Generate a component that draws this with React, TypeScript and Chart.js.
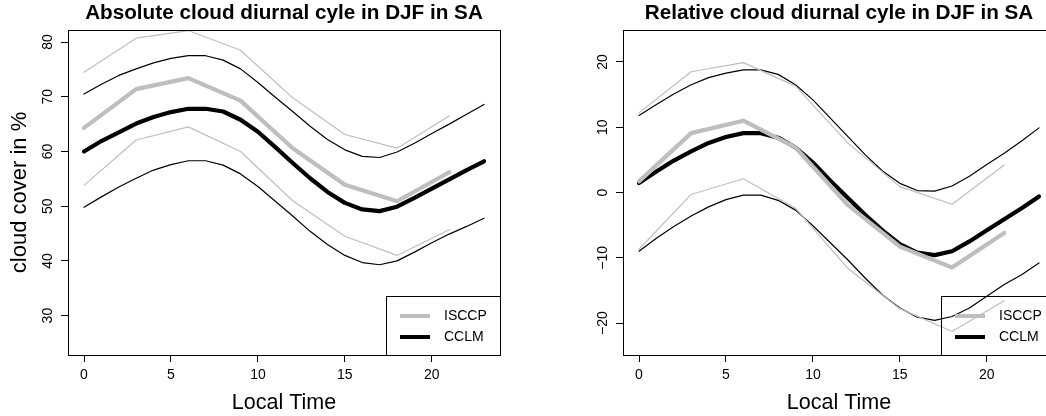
import React, { useEffect, useRef } from 'react';
import { Chart, registerables } from 'chart.js';

Chart.register(...registerables);

const FONT = '"Liberation Sans", Arial, Helvetica, sans-serif';

// ---- data ----
const HOURS = [0, 1, 2, 3, 4, 5, 6, 7, 8, 9, 10, 11, 12, 13, 14, 15, 16, 17, 18, 19, 20, 21, 22, 23];
const ISCCP_HOURS = [0, 3, 6, 9, 12, 15, 18, 21];
const X_TICKS = [0, 5, 10, 15, 20];

// Absolute panel
const absIsccpMean = [64.3, 71.4, 73.4, 69.3, 60.6, 53.9, 50.9, 56.2];
const absIsccpUpper = [74.5, 80.7, 82.1, 78.5, 69.8, 63.1, 60.6, 66.5];
const absIsccpLower = [53.8, 62.1, 64.5, 60.0, 51.0, 44.5, 41.0, 45.7];
const absCclmMean = [60.0, 61.9, 63.5, 65.1, 66.3, 67.2, 67.8, 67.8, 67.3, 65.8, 63.6, 60.8, 57.9, 55.1, 52.6, 50.6, 49.4, 49.1, 49.9, 51.5, 53.2, 54.9, 56.6, 58.2];
const absCclmUpper = [70.5, 72.3, 73.9, 75.1, 76.2, 77.0, 77.5, 77.5, 76.7, 75.1, 72.6, 69.9, 67.3, 64.6, 62.2, 60.3, 59.1, 58.9, 59.9, 61.5, 63.3, 65.0, 66.8, 68.6];
const absCclmLower = [49.8, 51.7, 53.5, 55.1, 56.6, 57.6, 58.3, 58.3, 57.5, 55.9, 53.6, 50.9, 48.2, 45.4, 43.0, 41.0, 39.7, 39.3, 40.0, 41.6, 43.3, 44.9, 46.3, 47.8];

// Relative panel
const relIsccpMean = [1.7, 9.1, 11.0, 6.9, -1.9, -8.3, -11.5, -6.2];
const relIsccpUpper = [12.2, 18.5, 19.9, 16.3, 7.6, 0.9, -1.8, 4.2];
const relIsccpLower = [-8.7, -0.3, 2.1, -2.4, -11.6, -17.8, -21.3, -16.6];
const relCclmMean = [1.45, 3.2, 4.9, 6.3, 7.6, 8.5, 9.1, 9.1, 8.4, 6.9, 4.6, 1.8, -0.8, -3.4, -5.8, -7.9, -9.2, -9.6, -9.0, -7.5, -5.8, -4.1, -2.4, -0.6];
const relCclmUpper = [11.8, 13.5, 15.1, 16.5, 17.6, 18.3, 18.8, 18.8, 18.1, 16.5, 14.2, 11.4, 8.6, 5.8, 3.3, 1.4, 0.3, 0.2, 1.0, 2.5, 4.3, 6.0, 7.9, 9.9];
const relCclmLower = [-9.0, -7.0, -5.2, -3.6, -2.2, -1.1, -0.4, -0.4, -1.2, -2.7, -5.1, -7.7, -10.3, -13.1, -15.7, -17.7, -19.1, -19.6, -19.0, -17.7, -15.9, -14.1, -12.6, -10.8];

const LEGEND_LABELS = ['ISCCP', 'CCLM'];
const GREY = '#bebebe';
const BLACK = '#000000';

type PanelProps = {
  title: string;
  yTitle?: string;
  isccp: number[][];
  cclm: number[][];
  yMin: number;
  yMax: number;
  left: number;
  canvasWidth: number;
  areaLeft: number;
  areaRight: number;
};

const fmt = (v: number) => (v < 0 ? '\u2212' + Math.abs(v) : String(v));

function Panel(p: PanelProps) {
  const ref = useRef<HTMLCanvasElement | null>(null);
  useEffect(() => {
    const canvas = ref.current;
    if (!canvas) return;
    const pts = (xs: number[], ys: number[]) => xs.map((x, i) => ({ x, y: ys[i] }));
    const ds = (label: string, color: string, width: number, xs: number[], ys: number[]) => ({
      label,
      data: pts(xs, ys),
      borderColor: color,
      backgroundColor: color,
      borderWidth: width,
      pointRadius: 0,
      fill: false,
      tension: 0,
      borderCapStyle: 'round',
      borderJoinStyle: 'round',
    });

    const boxPlugin = {
      id: 'rbox',
      afterDraw(chart: any) {
        const { ctx, chartArea: a } = chart;
        ctx.save();
        ctx.strokeStyle = '#000';
        ctx.lineWidth = 1;
        ctx.strokeRect(Math.round(a.left) + 0.5, Math.round(a.top) + 0.5, Math.round(a.right - a.left), Math.round(a.bottom - a.top));
        ctx.restore();
      },
    };

    const yLabelPlugin = {
      id: 'ylabels',
      afterDraw(chart: any) {
        const { ctx, chartArea: a } = chart;
        const sc = chart.scales.y;
        ctx.save();
        ctx.fillStyle = '#000';
        ctx.font = `14px ${FONT}`;
        ctx.textAlign = 'center';
        ctx.textBaseline = 'middle';
        sc.ticks.forEach((t: any) => {
          const y = sc.getPixelForValue(t.value);
          ctx.save();
          ctx.translate(a.left - 20, y);
          ctx.rotate(-Math.PI / 2);
          ctx.fillText(fmt(t.value), 0, 0);
          ctx.restore();
        });
        ctx.restore();
      },
    };

    const legendPlugin = {
      id: 'rlegend',
      afterDraw(chart: any) {
        const { ctx, chartArea: a } = chart;
        const w = 114;
        const h = 59;
        const lx = Math.round(a.right) - w;
        const ty = Math.round(a.bottom) - h;
        ctx.save();
        ctx.strokeStyle = '#000';
        ctx.lineWidth = 1;
        ctx.strokeRect(lx + 0.5, ty + 0.5, w, h);
        const items = [
          { label: LEGEND_LABELS[0], color: GREY },
          { label: LEGEND_LABELS[1], color: BLACK },
        ];
        items.forEach((it, i) => {
          const yy = ty + 20 + i * 21;
          ctx.strokeStyle = it.color;
          ctx.lineWidth = 4;
          ctx.lineCap = 'butt';
          ctx.beginPath();
          ctx.moveTo(lx + 14, yy);
          ctx.lineTo(lx + 44, yy);
          ctx.stroke();
          ctx.fillStyle = '#000';
          ctx.font = `14px ${FONT}`;
          ctx.textAlign = 'left';
          ctx.textBaseline = 'middle';
          ctx.fillText(it.label, lx + 58, yy);
        });
        ctx.restore();
      },
    };

    const chart = new Chart(canvas, {
      type: 'line',
      data: {
        datasets: [
          ds('ISCCP', GREY, 4.2, ISCCP_HOURS, p.isccp[0]),
          ds('ISCCP upper', GREY, 1.2, ISCCP_HOURS, p.isccp[1]),
          ds('ISCCP lower', GREY, 1.2, ISCCP_HOURS, p.isccp[2]),
          ds('CCLM', BLACK, 4.2, HOURS, p.cclm[0]),
          ds('CCLM upper', BLACK, 1.2, HOURS, p.cclm[1]),
          ds('CCLM lower', BLACK, 1.2, HOURS, p.cclm[2]),
        ] as any,
      },
      options: {
        responsive: false,
        animation: false,
        devicePixelRatio: 1,
        layout: { padding: { left: 0, top: 0, bottom: 0, right: p.canvasWidth - p.areaRight } },
        plugins: {
          legend: { display: false },
          tooltip: { enabled: false },
          title: {
            display: true,
            text: p.title,
            fullSize: false,
            color: '#000',
            font: { family: FONT, size: 20.7, weight: 'bold', lineHeight: 1.2 },
            padding: { top: 0.6, bottom: 4.56 },
          },
        },
        scales: {
          x: {
            type: 'linear',
            min: -0.92,
            max: 23.92,
            afterFit: (s: any) => {
              s.height = 61;
            },
            afterBuildTicks: (s: any) => {
              s.ticks = X_TICKS.map((v) => ({ value: v }));
            },
            ticks: {
              stepSize: 5,
              includeBounds: false,
              autoSkip: false,
              maxRotation: 0,
              minRotation: 0,
              color: '#000',
              font: { family: FONT, size: 14 },
              padding: 5,
            },
            grid: { display: true, drawOnChartArea: false, drawTicks: true, tickLength: 7, color: '#000', lineWidth: 1 },
            border: { display: false },
            title: {
              display: true,
              text: 'Local Time',
              color: '#000',
              font: { family: FONT, size: 21.5, lineHeight: 1.2 },
              padding: { top: 0, bottom: 0.4 },
            },
          },
          y: {
            type: 'linear',
            min: p.yMin,
            max: p.yMax,
            afterFit: (s: any) => {
              s.width = p.areaLeft;
            },
            ticks: { stepSize: 10, includeBounds: false, display: false },
            grid: { display: true, drawOnChartArea: false, drawTicks: true, tickLength: 7, color: '#000', lineWidth: 1 },
            border: { display: false },
            title: p.yTitle
              ? {
                  display: true,
                  text: p.yTitle,
                  color: '#000',
                  font: { family: FONT, size: 22, lineHeight: 1.2 },
                  padding: { top: 6.5, bottom: 0 },
                }
              : { display: false },
          },
        },
      } as any,
      plugins: [boxPlugin, yLabelPlugin, legendPlugin],
    });
    return () => chart.destroy();
  }, []);
  return (
    <canvas
      ref={ref}
      width={p.canvasWidth}
      height={416}
      style={{ position: 'absolute', left: p.left, top: 0, width: p.canvasWidth, height: 416 }}
    />
  );
}

export default function App() {
  return (
    <div style={{ position: 'absolute', left: 0, top: 0, width: 1046, height: 416, overflow: 'hidden', background: '#fff' }}>
      <Panel
        title="Absolute cloud diurnal cyle in DJF in SA"
        yTitle="cloud cover in %"
        isccp={[absIsccpMean, absIsccpUpper, absIsccpLower]}
        cclm={[absCclmMean, absCclmUpper, absCclmLower]}
        yMin={22.8}
        yMax={82.2}
        left={0}
        canvasWidth={523}
        areaLeft={68}
        areaRight={500}
      />
      <Panel
        title="Relative cloud diurnal cyle in DJF in SA"
        isccp={[relIsccpMean, relIsccpUpper, relIsccpLower]}
        cclm={[relCclmMean, relCclmUpper, relCclmLower]}
        yMin={-24.9}
        yMax={24.9}
        left={523}
        canvasWidth={600}
        areaLeft={100}
        areaRight={532}
      />
    </div>
  );
}
